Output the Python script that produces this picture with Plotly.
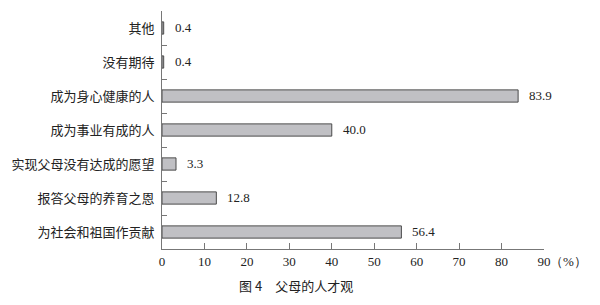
import plotly.graph_objects as go

categories = ["为社会和祖国作贡献", "报答父母的养育之恩", "实现父母没有达成的愿望",
              "成为事业有成的人", "成为身心健康的人", "没有期待", "其他"]
values = [56.4, 12.8, 3.3, 40.0, 83.9, 0.4, 0.4]
labels = ["56.4", "12.8", "3.3", "40.0", "83.9", "0.4", "0.4"]
x_ticks = [0, 10, 20, 30, 40, 50, 60, 70, 80, 90]

serif = "Liberation Serif, Times New Roman, serif"
cjk = "Noto Sans CJK SC"

fig = go.Figure()
fig.add_trace(go.Bar(
    x=values, y=categories, orientation="h", width=0.36,
    marker=dict(color="#c0c0c4", line=dict(color="#4a4a4a", width=1)),
    hoverinfo="skip",
))

for v, c, t in zip(values, categories, labels):
    fig.add_annotation(x=v, y=c, text=t, showarrow=False, xanchor="left",
                       xshift=9, yshift=1, font=dict(family=serif, size=13, color="#222"))

fig.add_annotation(x=1, y=0, xref="paper", yref="paper", text="（%）", showarrow=False,
                   xanchor="left", yanchor="top", xshift=4, yshift=-3,
                   font=dict(family=serif, size=13, color="#222"))
fig.add_annotation(x=0.5, y=0, xref="paper", yref="paper", text="图 4　父母的人才观", showarrow=False,
                   xanchor="center", yanchor="top", yshift=-25, xshift=-57,
                   font=dict(family=cjk, size=13, color="#222"))

fig.update_layout(
    width=600, height=305,
    margin=dict(l=162, r=56, t=11, b=56),
    paper_bgcolor="white", plot_bgcolor="white",
    showlegend=False,
    xaxis=dict(range=[0, 90], tickvals=x_ticks, showgrid=False, zeroline=False,
               showline=True, linecolor="#777", linewidth=1,
               ticks="inside", ticklen=6, tickcolor="#777",
               tickfont=dict(family=serif, size=13, color="#222")),
    yaxis=dict(type="category", categoryorder="array", categoryarray=categories,
               range=[-0.5, 6.5], showgrid=False, zeroline=False,
               showline=True, linecolor="#777", linewidth=1,
               ticks="inside", tickson="boundaries", ticklen=5, tickcolor="#777",
               ticklabelstandoff=4,
               tickfont=dict(family=cjk, size=13, color="#222")),
)

fig.write_html("out.html")
